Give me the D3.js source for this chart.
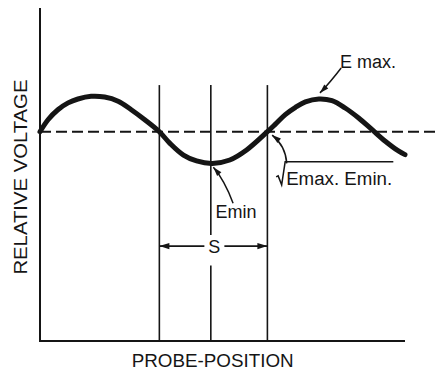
<!DOCTYPE html>
<html>
<head>
<meta charset="utf-8">
<script src="https://cdn.jsdelivr.net/npm/d3@7"></script>
<style>
  html, body { margin: 0; padding: 0; background: #fff; }
  svg { display: block; }
  text { font-family: "Liberation Sans", Arial, sans-serif; fill: #151515; }
</style>
</head>
<body>
<svg id="chart" width="436" height="372"></svg>
<script>
// ---- data ----
const probePosition = [0, 2.2, 4.9, 7.7, 10.4, 14.0, 17.7, 21.4, 25.0, 28.7, 32.7, 35.6, 39.3, 42.9, 47.2, 52.0, 56.6, 62.3, 64.5, 67.2, 70.0, 72.7, 76.4, 80.0, 83.6, 87.3, 91.0, 94.6, 98.3, 100];
const relativeVoltage = [0.858, 0.907, 0.948, 0.976, 0.992, 1.003, 1.0, 0.983, 0.948, 0.907, 0.858, 0.810, 0.762, 0.738, 0.728, 0.742, 0.783, 0.858, 0.889, 0.928, 0.958, 0.980, 0.992, 0.985, 0.955, 0.914, 0.866, 0.819, 0.778, 0.764];
const referenceLevel = 0.858;          // sqrt(Emax * Emin)
const markerPositions = [32.7, 46.8, 62.3];
const markerTop = 1.049;
const sSpan = [32.7, 62.3];
const sLevel = 0.389;
const axisLabels = { x: "PROBE-POSITION", y: "RELATIVE VOLTAGE" };
const annotationText = ["E max.", "Emin", "Emax. Emin.", "S"];
// annotation leaders: [startX, startY, ctrlX, ctrlY, tipX, tipY] in data units
const leaderEmax = [82.5, 1.119, 79.5, 1.06, 76.7, 1.017];
const leaderEmin = [52.9, 0.565, 50.5, 0.66, 47.5, 0.712];
const leaderRoot = [67.6, 0.728, 67.3, 0.80, 63.6, 0.844];

// ---- layout ----
const svg = d3.select("#chart");
const x = d3.scaleLinear().domain([0, 100]).range([40, 405]);
const y = d3.scaleLinear().domain([0, 1.365]).range([341, 8]);
const ink = "#151515";

// axes (no ticks)
svg.append("line").attr("x1", x(0)).attr("x2", x(0)).attr("y1", y(0) + 1).attr("y2", y(1.365))
  .attr("stroke", ink).attr("stroke-width", 2);
svg.append("line").attr("x1", x(0)).attr("x2", x(100)).attr("y1", y(0)).attr("y2", y(0))
  .attr("stroke", ink).attr("stroke-width", 2);

// reference dashed level
svg.append("line").attr("x1", x(0)).attr("x2", 436).attr("y1", y(referenceLevel)).attr("y2", y(referenceLevel))
  .attr("stroke", ink).attr("stroke-width", 2).attr("stroke-dasharray", "11,5");

// vertical marker lines
markerPositions.forEach((p, i) => {
  if (i === 1) {
    svg.append("line").attr("x1", x(p)).attr("x2", x(p)).attr("y1", y(markerTop)).attr("y2", y(sLevel + 0.045))
      .attr("stroke", ink).attr("stroke-width", 1.6);
    svg.append("line").attr("x1", x(p)).attr("x2", x(p)).attr("y1", y(sLevel - 0.08)).attr("y2", y(0))
      .attr("stroke", ink).attr("stroke-width", 1.6);
  } else {
    svg.append("line").attr("x1", x(p)).attr("x2", x(p)).attr("y1", y(markerTop)).attr("y2", y(0))
      .attr("stroke", ink).attr("stroke-width", 1.6);
  }
});

// standing wave curve
const pts = probePosition.map((p, i) => [p, relativeVoltage[i]]);
svg.append("path").datum(pts)
  .attr("d", d3.line().x(d => x(d[0])).y(d => y(d[1])).curve(d3.curveCatmullRom.alpha(0.5)))
  .attr("fill", "none").attr("stroke", ink).attr("stroke-width", 5)
  .attr("stroke-linecap", "round").attr("stroke-linejoin", "round");

// arrowhead helper
function arrowHead(tx, ty, fx, fy, len, half) {
  const a = Math.atan2(ty - fy, tx - fx);
  const bx = tx - len * Math.cos(a), by = ty - len * Math.sin(a);
  const px = -Math.sin(a) * half, py = Math.cos(a) * half;
  svg.append("path")
    .attr("d", `M${tx},${ty}L${bx + px},${by + py}L${bx - px},${by - py}Z`)
    .attr("fill", ink);
}

// leaders
function leader(L) {
  const [sx, sy, cx, cy, tx, ty] = [x(L[0]), y(L[1]), x(L[2]), y(L[3]), x(L[4]), y(L[5])];
  svg.append("path").attr("d", `M${sx},${sy}Q${cx},${cy} ${tx},${ty}`)
    .attr("fill", "none").attr("stroke", ink).attr("stroke-width", 1.5);
  arrowHead(tx, ty, cx, cy, 9, 2.8);
}
leader(leaderEmax);
leader(leaderEmin);
leader(leaderRoot);

// S dimension arrow
const sY = y(sLevel);
const sMid = x((sSpan[0] + sSpan[1]) / 2);
svg.append("line").attr("x1", x(sSpan[0])).attr("x2", sMid - 9).attr("y1", sY).attr("y2", sY)
  .attr("stroke", ink).attr("stroke-width", 1.6);
svg.append("line").attr("x1", sMid + 11).attr("x2", x(sSpan[1])).attr("y1", sY).attr("y2", sY)
  .attr("stroke", ink).attr("stroke-width", 1.6);
arrowHead(x(sSpan[0]), sY, x(sSpan[0]) + 20, sY, 10, 3.2);
arrowHead(x(sSpan[1]), sY, x(sSpan[1]) - 20, sY, 10, 3.2);
svg.append("text").attr("x", sMid + 1).attr("y", sY + 7).attr("text-anchor", "middle")
  .attr("font-size", 18).text(annotationText[3]);

// labels
svg.append("text").attr("x", x(82.2)).attr("y", y(1.121)).attr("font-size", 18).text(annotationText[0]);
svg.append("text").attr("x", x(48.1)).attr("y", y(0.503)).attr("font-size", 18).text(annotationText[1]);

// radical label
const rx = x(64.7), ry = y(0.64);
svg.append("path")
  .attr("d", `M${rx},${ry - 8}L${rx + 2},${ry - 9}L${rx + 5.5},${ry}L${rx + 9},${ry - 23}L${x(96.8)},${ry - 23}`)
  .attr("fill", "none").attr("stroke", ink).attr("stroke-width", 1.5).attr("stroke-linejoin", "miter");
svg.append("text").attr("x", rx + 10).attr("y", ry).attr("font-size", 18)
  .attr("textLength", 106).attr("lengthAdjust", "spacingAndGlyphs").text(annotationText[2]);

// axis titles
svg.append("text").attr("x", x(47.3)).attr("y", 366.5).attr("text-anchor", "middle")
  .attr("font-size", 18).attr("textLength", 162).attr("lengthAdjust", "spacingAndGlyphs").text(axisLabels.x);
svg.append("text").attr("transform", `translate(27,${y(0.672)}) rotate(-90)`).attr("text-anchor", "middle")
  .attr("font-size", 18).attr("textLength", 195).attr("lengthAdjust", "spacingAndGlyphs").text(axisLabels.y);
</script>
</body>
</html>
